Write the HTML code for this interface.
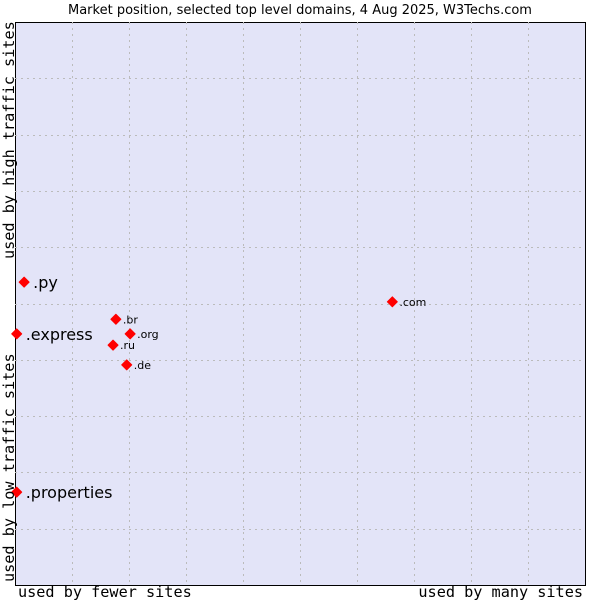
<!DOCTYPE html>
<html><head><meta charset="utf-8"><style>
body{margin:0;background:#fff;width:600px;height:600px;overflow:hidden}
svg text{font-family:"DejaVu Sans","Liberation Sans",sans-serif}
.mono{font-family:"DejaVu Sans Mono","Liberation Mono",monospace}
</style></head><body>
<svg id="chart" width="600" height="600" xmlns="http://www.w3.org/2000/svg">
<text x="300" y="14" text-anchor="middle" font-size="13" fill="#000" style="font-family:'DejaVu Sans',sans-serif">Market position, selected top level domains, 4 Aug 2025, W3Techs.com</text>
<rect x="15.5" y="22.5" width="570" height="563" fill="#e3e4f8" stroke="#000" stroke-width="1"/>
<g id="grid"></g>
<g id="points"></g>
<text class="mono" x="18" y="597" font-size="15.2">used by fewer sites</text>
<text class="mono" x="583" y="597" font-size="15.2" text-anchor="end">used by many sites</text>
<text class="mono" transform="translate(14,582) rotate(-90)" font-size="15.2">used by low traffic sites</text>
<text class="mono" transform="translate(14,259) rotate(-90)" font-size="15.2">used by high traffic sites</text>
</svg>
<script>
const labels=[".py",".express",".properties",".com",".br",".org",".ru",".de"];
const xValues=[1.6,0.3,0.3,66.2,17.7,20.2,17.2,19.6];
const yValues=[53.8,44.6,16.5,50.3,47.2,44.6,42.6,39.1];
const bigLabel=[true,true,true,false,false,false,false,false];
const NS="http://www.w3.org/2000/svg";
const L=15,T=22,W=570,H=563;
const xs=v=>L+v/100*W, ys=v=>T+H-v/100*H;
const grid=document.getElementById('grid');
for(let i=1;i<10;i++){
 const vx=document.createElementNS(NS,'line');
 
 
 const x=Math.round(xs(i*10))+0.5;
 vx.setAttribute('x1',x);vx.setAttribute('x2',x);vx.setAttribute('y1',T);vx.setAttribute('y2',T+H);
 vx.setAttribute('stroke','#bbb');vx.setAttribute('stroke-dasharray','2,4');grid.appendChild(vx);
 const hy=document.createElementNS(NS,'line');
 
 
 const y=Math.round(ys(i*10))+0.5;
 hy.setAttribute('y1',y);hy.setAttribute('y2',y);hy.setAttribute('x1',L);hy.setAttribute('x2',L+W);
 hy.setAttribute('stroke','#bbb');hy.setAttribute('stroke-dasharray','2,4');grid.appendChild(hy);
}
const pts=document.getElementById('points');
labels.forEach((lb,i)=>{
 const x=xs(xValues[i]),y=ys(yValues[i]);
 const d=document.createElementNS(NS,'path');
 
 
 d.setAttribute('d',`M${x-5},${y} L${x},${y-5} L${x+5},${y} L${x},${y+5} Z`);
 d.setAttribute('fill','#f00');d.setAttribute('stroke','#f00');d.setAttribute('stroke-width','1');d.setAttribute('stroke-linejoin','round');
 pts.appendChild(d);
 const t=document.createElementNS(NS,'text');
 
 
 t.setAttribute('x',x+(bigLabel[i]?9:7));
 t.setAttribute('y',y+(bigLabel[i]?6:4));
 t.setAttribute('font-size',bigLabel[i]?'16':'11');
 t.textContent=lb;pts.appendChild(t);
});
</script>
</body></html>
